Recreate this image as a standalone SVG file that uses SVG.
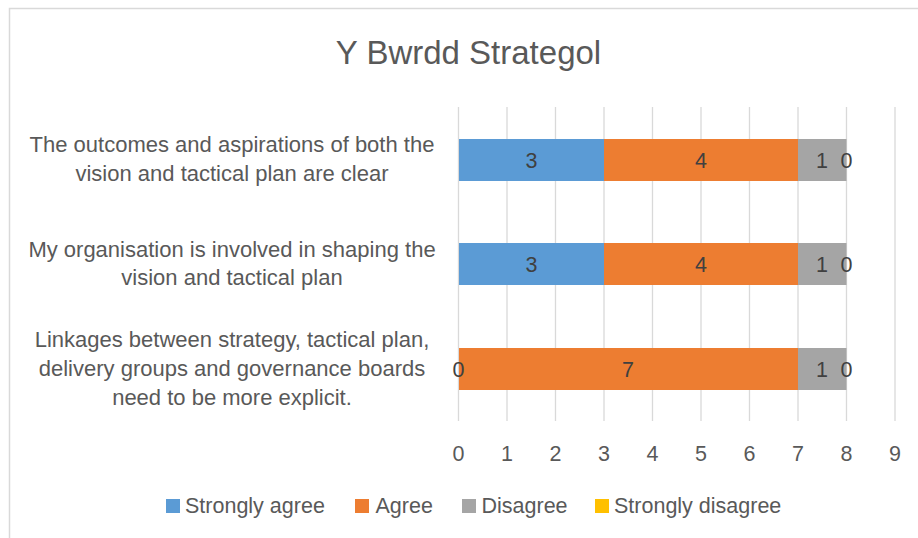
<svg xmlns="http://www.w3.org/2000/svg" width="918" height="538" viewBox="0 0 918 538">
<style>
text{font-family:"Liberation Sans",Arial,sans-serif}
.title{font-size:33px;fill:#595959;text-anchor:middle}
.cat{font-size:22px;fill:#595959;text-anchor:middle}
.ax{font-size:21.5px;fill:#595959;text-anchor:middle}
.dl{font-size:21.5px;fill:#404040;text-anchor:middle}
.lg{font-size:21.5px;fill:#595959}
.grid{stroke:#D9D9D9;stroke-width:1.3}
.sa{fill:#5B9BD5}.ag{fill:#ED7D31}.di{fill:#A5A5A5}.sd{fill:#FFC000}
</style>
<rect x="0" y="0" width="918" height="538" fill="#ffffff"/>
<rect x="9.5" y="8.5" width="930" height="560" fill="none" stroke="#D9D9D9" stroke-width="1.5"/>
<text class="title" x="468.5" y="63.5">Y Bwrdd Strategol</text>
<g id="gridlines">
<line class="grid" x1="458.5" y1="107" x2="458.5" y2="421"/>
<line class="grid" x1="507" y1="107" x2="507" y2="421"/>
<line class="grid" x1="555.5" y1="107" x2="555.5" y2="421"/>
<line class="grid" x1="604" y1="107" x2="604" y2="421"/>
<line class="grid" x1="652.5" y1="107" x2="652.5" y2="421"/>
<line class="grid" x1="701" y1="107" x2="701" y2="421"/>
<line class="grid" x1="749.5" y1="107" x2="749.5" y2="421"/>
<line class="grid" x1="798" y1="107" x2="798" y2="421"/>
<line class="grid" x1="846.5" y1="107" x2="846.5" y2="421"/>
<line class="grid" x1="895" y1="107" x2="895" y2="421"/>
</g>
<g id="axis-labels">
<text class="ax" x="458.5" y="460.5">0</text>
<text class="ax" x="507" y="460.5">1</text>
<text class="ax" x="555.5" y="460.5">2</text>
<text class="ax" x="604" y="460.5">3</text>
<text class="ax" x="652.5" y="460.5">4</text>
<text class="ax" x="701" y="460.5">5</text>
<text class="ax" x="749.5" y="460.5">6</text>
<text class="ax" x="798" y="460.5">7</text>
<text class="ax" x="846.5" y="460.5">8</text>
<text class="ax" x="895" y="460.5">9</text>
</g>
<g id="row1">
<text class="cat" x="232" y="152">The outcomes and aspirations of both the</text>
<text class="cat" x="232" y="181">vision and tactical plan are clear</text>
<rect class="sa" x="459" y="139" width="145" height="42"/>
<rect class="ag" x="604" y="139" width="194" height="42"/>
<rect class="di" x="798" y="139" width="48.5" height="42"/>
<text class="dl" x="531.5" y="168">3</text>
<text class="dl" x="701" y="168">4</text>
<text class="dl" x="822" y="168">1</text>
<text class="dl" x="846.5" y="168">0</text>
</g>
<g id="row2">
<text class="cat" x="232" y="256.5">My organisation is involved in shaping the</text>
<text class="cat" x="232" y="285">vision and tactical plan</text>
<rect class="sa" x="459" y="243" width="145" height="42"/>
<rect class="ag" x="604" y="243" width="194" height="42"/>
<rect class="di" x="798" y="243" width="48.5" height="42"/>
<text class="dl" x="531.5" y="272">3</text>
<text class="dl" x="701" y="272">4</text>
<text class="dl" x="822" y="272">1</text>
<text class="dl" x="846.5" y="272">0</text>
</g>
<g id="row3">
<text class="cat" x="232" y="346.5">Linkages between strategy, tactical plan,</text>
<text class="cat" x="232" y="375.5">delivery groups and governance boards</text>
<text class="cat" x="232" y="405">need to be more explicit.</text>
<rect class="ag" x="459" y="348" width="339" height="42"/>
<rect class="di" x="798" y="348" width="48.5" height="42"/>
<text class="dl" x="458.5" y="377">0</text>
<text class="dl" x="628" y="377">7</text>
<text class="dl" x="822" y="377">1</text>
<text class="dl" x="846.5" y="377">0</text>
</g>
<g id="legend">
<rect class="sa" x="166" y="499" width="14" height="14"/>
<text class="lg" x="185" y="513">Strongly agree</text>
<rect class="ag" x="355" y="499" width="14" height="14"/>
<text class="lg" x="375.5" y="513">Agree</text>
<rect class="di" x="462" y="499" width="14" height="14"/>
<text class="lg" x="481.5" y="513">Disagree</text>
<rect class="sd" x="595" y="499" width="14" height="14"/>
<text class="lg" x="614" y="513">Strongly disagree</text>
</g>
</svg>
